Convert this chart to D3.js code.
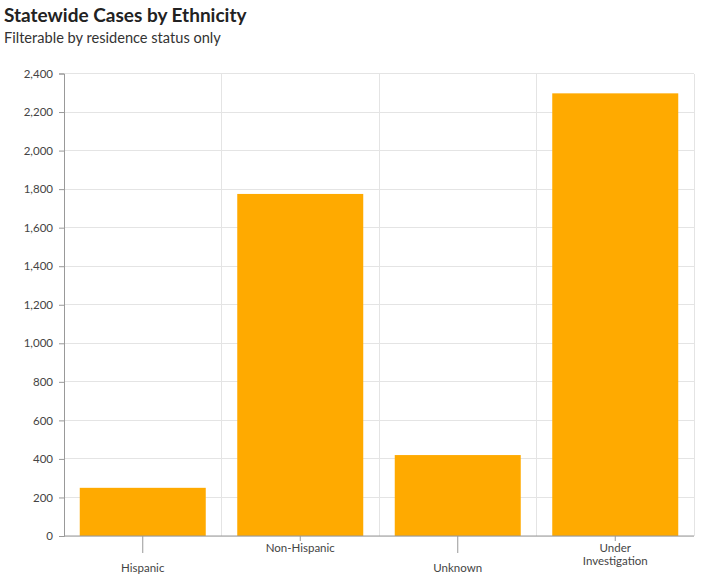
<!DOCTYPE html>
<html><head><meta charset="utf-8">
<script src="https://cdn.jsdelivr.net/npm/d3@7"></script>
<style>
body{margin:0;background:#fff;font-family:Lato,"Noto Sans",sans-serif;}
</style></head>
<body><svg id="c" width="710" height="578"></svg>
<script>
const categories = ["Hispanic","Non-Hispanic","Unknown","Under Investigation"];
const cases = [250, 1775, 420, 2297];
const yTicks = [0,200,400,600,800,1000,1200,1400,1600,1800,2000,2200,2400];

const svg = d3.select("#c");
const m = {left:64, right:16, top:73.5, bottom:42};
const W = 710, H = 578;
const x0 = m.left, x1 = W - m.right, yTop = m.top, yBot = H - m.bottom;

svg.append("text").attr("x",4).attr("y",22).attr("font-size",19).attr("font-weight","bold")
  .attr("fill","#222").text("Statewide Cases by Ethnicity");
svg.append("text").attr("x",4).attr("y",43).attr("font-size",14.6).attr("fill","#333")
  .text("Filterable by residence status only");

const x = d3.scaleBand().domain(categories).range([x0,x1]).paddingInner(0.2).paddingOuter(0.1);
const y = d3.scaleLinear().domain([0,2400]).range([yBot,yTop]);

// horizontal grid
svg.append("g").selectAll("line").data(yTicks).join("line")
  .attr("x1",x0).attr("x2",x1).attr("y1",d=>y(d)).attr("y2",d=>y(d))
  .attr("stroke","#e4e4e4").attr("stroke-width",1).attr("shape-rendering","crispEdges");
// vertical grid at band boundaries
const step = x.step();
const bounds = d3.range(categories.length+1).map(i => x0 + i*step);
svg.append("g").selectAll("line").data(bounds.slice(1)).join("line")
  .attr("x1",d=>d).attr("x2",d=>d).attr("y1",yTop).attr("y2",yBot)
  .attr("stroke","#e4e4e4").attr("shape-rendering","crispEdges");

// bars
svg.append("g").selectAll("rect").data(categories).join("rect")
  .attr("x",d=>x(d)).attr("width",x.bandwidth())
  .attr("y",(d,i)=>y(cases[i])).attr("height",(d,i)=>yBot - y(cases[i]))
  .attr("fill","#ffaa00");

// y axis
const yAxis = svg.append("g").attr("transform",`translate(${x0},0)`)
  .call(d3.axisLeft(y).tickValues(yTicks).tickSize(5).tickPadding(6).tickFormat(d3.format(",")));
yAxis.select(".domain").attr("stroke","#999");
yAxis.selectAll(".tick line").attr("stroke","#999");
yAxis.selectAll("text").attr("fill","#444").attr("font-size",11.5).attr("font-family","Lato,'Noto Sans',sans-serif");

// x axis
const xg = svg.append("g");
xg.append("line").attr("x1",x0).attr("x2",x1).attr("y1",yBot).attr("y2",yBot).attr("stroke","#999");
categories.forEach((c,i)=>{
  const cx = x(c) + x.bandwidth()/2;
  const low = i % 2 === 0;
  const tickLen = low ? 17 : 5;
  xg.append("line").attr("x1",cx).attr("x2",cx).attr("y1",yBot).attr("y2",yBot+tickLen).attr("stroke","#999");
  const words = c === "Under Investigation" ? ["Under","Investigation"] : [c];
  const baseY = low ? yBot+36 : yBot+16;
  words.forEach((w,j)=>{
    xg.append("text").attr("x",cx).attr("y",baseY + j*13).attr("text-anchor","middle")
      .attr("font-size",11.5).attr("fill","#444").text(w);
  });
});
</script></body></html>
